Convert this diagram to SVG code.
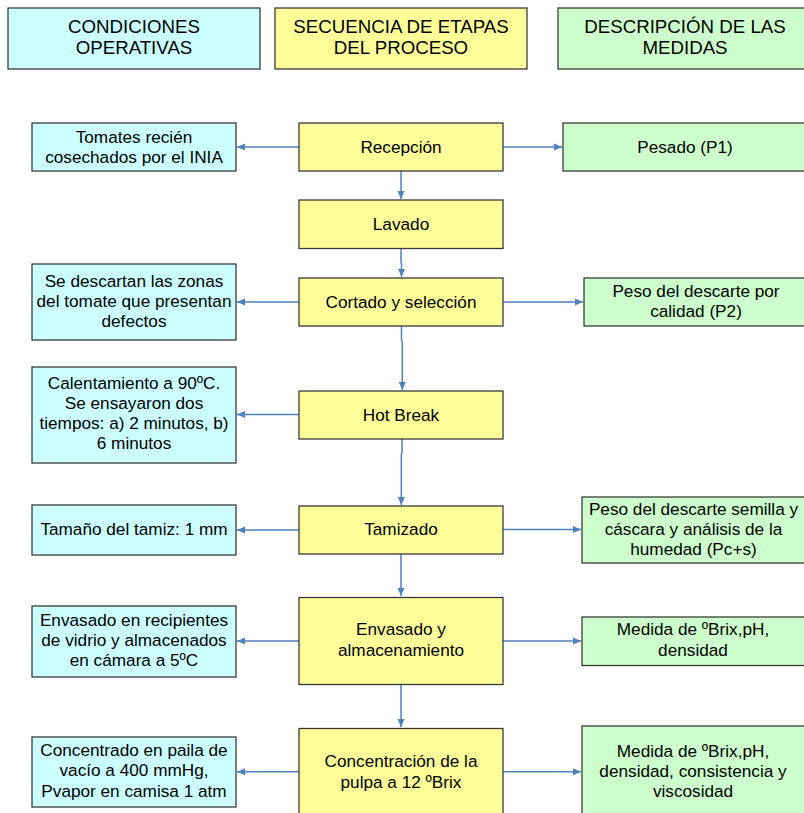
<svg xmlns="http://www.w3.org/2000/svg" width="804" height="813" viewBox="0 0 804 813">
<defs>
<style>
.c{fill:#CCFFFF;stroke:#3a3a3a;stroke-width:1.3}
.y{fill:#FFFF99;stroke:#3a3a3a;stroke-width:1.3}
.g{fill:#CCFFCC;stroke:#3a3a3a;stroke-width:1.3}
text{font-family:"Liberation Sans",Arial,sans-serif;fill:#000;text-anchor:middle}
.h{font-size:18.7px}
.t{font-size:17.2px}
.ln{fill:none;stroke:#4F81BD;stroke-width:1.5}
</style>
<marker id="ah" markerUnits="userSpaceOnUse" markerWidth="10" markerHeight="10" viewBox="0 0 10 10" refX="9" refY="5" orient="auto">
<path d="M1,1.5 L9,5 L1,8.5 Z" fill="#4F81BD"/>
</marker>
</defs>
<rect width="804" height="813" fill="#fff"/>

<g id="h1"><rect class="c" x="8" y="8" width="252" height="61"/><text class="h" x="134" y="33">CONDICIONES</text><text class="h" x="134" y="54">OPERATIVAS</text></g>
<g id="h2"><rect class="y" x="275" y="8" width="252" height="61"/><text class="h" x="401" y="33">SECUENCIA DE ETAPAS</text><text class="h" x="401" y="54">DEL PROCESO</text></g>
<g id="h3"><rect class="g" x="558" y="8" width="255" height="61"/><text class="h" x="685" y="33">DESCRIPCIÓN DE LAS</text><text class="h" x="685" y="54">MEDIDAS</text></g>

<g id="connectors">
<path class="ln" d="M401 171 V199" marker-end="url(#ah)"/>
<path class="ln" d="M401 249 V262 L401.5 264 V277" marker-end="url(#ah)"/>
<path class="ln" d="M401.5 326 V340 L402.3 342 V390" marker-end="url(#ah)"/>
<path class="ln" d="M402 439 V452 L401.3 455 V505" marker-end="url(#ah)"/>
<path class="ln" d="M401 554 V596" marker-end="url(#ah)"/>
<path class="ln" d="M401 684 V727" marker-end="url(#ah)"/>
<path class="ln" d="M299 147 H237" marker-end="url(#ah)"/>
<path class="ln" d="M503 147 H562" marker-end="url(#ah)"/>
<path class="ln" d="M299 302 H237" marker-end="url(#ah)"/>
<path class="ln" d="M503 302 H583" marker-end="url(#ah)"/>
<path class="ln" d="M299 414.5 H237" marker-end="url(#ah)"/>
<path class="ln" d="M299 530 H237" marker-end="url(#ah)"/>
<path class="ln" d="M503 529.5 H581" marker-end="url(#ah)"/>
<path class="ln" d="M299 641 H237" marker-end="url(#ah)"/>
<path class="ln" d="M503 641 H581" marker-end="url(#ah)"/>
<path class="ln" d="M299 771.7 H237" marker-end="url(#ah)"/>
<path class="ln" d="M503 771.7 H581" marker-end="url(#ah)"/>
</g>

<g id="recepcion"><rect class="y" x="299" y="123" width="204" height="48"/><text class="t" x="401" y="153">Recepción</text></g>
<g id="tomates"><rect class="c" x="32" y="123" width="204" height="48"/><text class="t" x="134" y="143">Tomates recién</text><text class="t" x="134" y="163">cosechados por el INIA</text></g>
<g id="pesado"><rect class="g" x="563" y="123" width="245" height="48"/><text class="t" x="685" y="153">Pesado (P1)</text></g>

<g id="lavado"><rect class="y" x="299" y="200" width="204" height="48.5"/><text class="t" x="401" y="230">Lavado</text></g>

<g id="cortado"><rect class="y" x="299" y="278" width="204" height="48"/><text class="t" x="401" y="308">Cortado y selección</text></g>
<g id="descartan"><rect class="c" x="32" y="264" width="204" height="76"/><text class="t" x="134" y="287">Se descartan las zonas</text><text class="t" x="134" y="307">del tomate que presentan</text><text class="t" x="134" y="327">defectos</text></g>
<g id="pesoP2"><rect class="g" x="584" y="278" width="224" height="48"/><text class="t" x="696" y="297">Peso del descarte por</text><text class="t" x="696" y="317">calidad (P2)</text></g>

<g id="hotbreak"><rect class="y" x="299" y="391" width="204" height="48"/><text class="t" x="401" y="421">Hot Break</text></g>
<g id="calentamiento"><rect class="c" x="32" y="367" width="204" height="96"/><text class="t" x="134" y="389">Calentamiento a 90ºC.</text><text class="t" x="134" y="409">Se ensayaron dos</text><text class="t" x="134" y="429">tiempos: a) 2 minutos, b)</text><text class="t" x="134" y="449">6 minutos</text></g>

<g id="tamizado"><rect class="y" x="299" y="506" width="204" height="48"/><text class="t" x="401" y="535">Tamizado</text></g>
<g id="tamiz"><rect class="c" x="32" y="505" width="204" height="50"/><text class="t" x="134" y="534.5">Tamaño del tamiz: 1 mm</text></g>
<g id="pesoPcs"><rect class="g" x="582" y="497" width="226" height="66"/><text class="t" x="693.5" y="515">Peso del descarte semilla y</text><text class="t" x="693.5" y="535">cáscara y análisis de la</text><text class="t" x="693.5" y="555">humedad (Pc+s)</text></g>

<g id="envasado"><rect class="y" x="299" y="597.5" width="204" height="87"/><text class="t" x="401" y="635">Envasado y</text><text class="t" x="401" y="656">almacenamiento</text></g>
<g id="envasadoCond"><rect class="c" x="32" y="606" width="204" height="71"/><text class="t" x="134" y="626">Envasado en recipientes</text><text class="t" x="134" y="646">de vidrio y almacenados</text><text class="t" x="134" y="666">en cámara a 5ºC</text></g>
<g id="medida1"><rect class="g" x="582" y="617" width="226" height="48.5"/><text class="t" x="693" y="635">Medida de ºBrix,pH,</text><text class="t" x="693" y="656">densidad</text></g>

<g id="concentracion"><rect class="y" x="299" y="728.5" width="204" height="100"/><text class="t" x="401" y="767">Concentración de la</text><text class="t" x="401" y="787.5">pulpa a 12 ºBrix</text></g>
<g id="concentrado"><rect class="c" x="32" y="737" width="204" height="70"/><text class="t" x="134" y="756">Concentrado en paila de</text><text class="t" x="134" y="776">vacío a 400 mmHg,</text><text class="t" x="134" y="796.5">Pvapor en camisa 1 atm</text></g>
<g id="medida2"><rect class="g" x="582" y="726" width="226" height="100"/><text class="t" x="693" y="757">Medida de ºBrix,pH,</text><text class="t" x="693" y="777">densidad, consistencia y</text><text class="t" x="693" y="797">viscosidad</text></g>
</svg>
